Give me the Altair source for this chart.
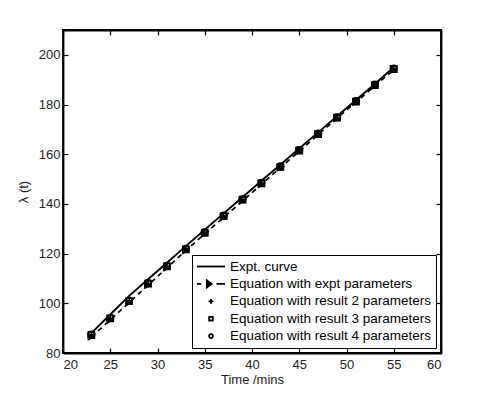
import altair as alt
import pandas as pd

# ---- data ----
t_expt = [23, 25, 27, 29, 31, 33, 35, 37, 39, 41, 43, 45, 47, 49, 51, 53, 55]
lam_curve = [88.0, 95.5, 103.0, 109.7, 116.3, 123.0, 129.6, 136.2, 142.7,
             149.3, 155.8, 162.3, 168.8, 175.3, 181.8, 188.3, 195.0]

t_eq = [23, 25, 27, 29, 31, 33, 35, 37, 39, 41, 43, 45, 47, 49, 51, 53, 55]
lam_eq_expt = [86.5, 93.3, 100.3, 107.3, 114.3, 121.2, 128.0, 134.6, 141.2,
               147.9, 154.6, 161.2, 167.9, 174.5, 181.0, 187.5, 194.0]
lam_eq_r2 = [87.3, 94.0, 101.0, 108.0, 115.0, 121.8, 128.5, 135.2, 141.8,
             148.4, 155.0, 161.6, 168.2, 174.8, 181.3, 187.9, 194.4]
lam_eq_r3 = [87.2, 93.9, 100.9, 107.9, 114.9, 121.7, 128.4, 135.1, 141.7,
             148.3, 154.9, 161.5, 168.1, 174.7, 181.2, 187.8, 194.3]
lam_eq_r4 = [87.4, 94.1, 101.1, 108.1, 115.1, 121.9, 128.6, 135.3, 141.9,
             148.5, 155.1, 161.7, 168.3, 174.9, 181.4, 188.0, 194.5]

series_names = ["Expt. curve",
                "Equation with expt parameters",
                "Equation with result 2 parameters",
                "Equation with result 3 parameters",
                "Equation with result 4 parameters"]

x_ticks = [20, 25, 30, 35, 40, 45, 50, 55, 60]
y_ticks = [80, 100, 120, 140, 160, 180, 200]

# ---- styling ----
W, H = 378, 323
FONT = "Liberation Sans"
x_scale = alt.Scale(domain=[20, 60], nice=False, zero=False)
y_scale = alt.Scale(domain=[80, 210], nice=False, zero=False)

PLUS = "M-1,0H1M0,-1V1"
SQUARE = "M-1,-1H1V1H-1Z"

# legend symbol paths (drawn in a 28px box)
leg_line = "M-1,0H1"
leg_dash_tri = "M-1,0H-0.7M-0.3,-0.26L0.05,0L-0.3,0.26ZM0.4,0H1"
leg_plus = "M-0.17,0H0.17M0,-0.17V0.17"
leg_square = "M-0.13,-0.13H0.13V0.13H-0.13Z"
leg_circle = "M0.14,0A0.14,0.14,0,1,1,-0.14,0A0.14,0.14,0,1,1,0.14,0Z"

curve_df = pd.DataFrame({"t": t_expt, "lam": lam_curve})
eq_df = pd.DataFrame({"t": t_eq, "expt": lam_eq_expt, "r2": lam_eq_r2,
                      "r3": lam_eq_r3, "r4": lam_eq_r4})
legend_df = pd.DataFrame({"series": series_names, "t": [0] * 5, "lam": [0] * 5})

x_bottom = alt.X("t:Q", scale=x_scale, title="Time /mins",
                 axis=alt.Axis(values=x_ticks, orient="bottom", grid=False,
                               tickSize=alt.ExprRef("-5"), labelPadding=10,
                               titlePadding=2))
y_left = alt.Y("lam:Q", scale=y_scale, title="λ (t)",
               axis=alt.Axis(values=y_ticks, orient="left", grid=False,
                             tickSize=alt.ExprRef("-5"), labelPadding=8,
                             titlePadding=8))


def xq():
    return alt.X("t:Q", scale=x_scale, axis=None)


def yq(f):
    return alt.Y(f + ":Q", scale=y_scale, axis=None)


curve = alt.Chart(curve_df).mark_line(color="black", strokeWidth=1.9).encode(
    x=x_bottom, y=y_left)

dashed = alt.Chart(eq_df).mark_line(color="black", strokeWidth=1.7,
                                   strokeDash=[5, 4]).encode(x=xq(), y=yq("expt"))
tri = alt.Chart(eq_df).mark_point(shape="triangle-right", filled=True,
                                  color="black", size=70, opacity=1).encode(
    x=xq(), y=yq("expt"))
plus = alt.Chart(eq_df).mark_point(shape=PLUS, filled=False, color="black",
                                   strokeWidth=1.6, size=28, opacity=1).encode(
    x=xq(), y=yq("r2"))
sq = alt.Chart(eq_df).mark_point(shape=SQUARE, filled=False, color="black",
                                 strokeWidth=1.8, size=36, opacity=1).encode(
    x=xq(), y=yq("r3"))
circ = alt.Chart(eq_df).mark_point(shape="circle", filled=False, color="black",
                                   strokeWidth=1.8, size=40, opacity=1).encode(
    x=xq(), y=yq("r4"))

leg = alt.Legend(title=None, orient="bottom-right", offset=5,
                 labelFont=FONT, labelFontSize=13.5, labelColor="black",
                 strokeColor="black", fillColor="white", padding=4,
                 clipHeight=15, rowPadding=2.4, symbolStrokeWidth=1.8,
                 symbolStrokeColor="black", symbolSize=784, symbolOffset=0,
                 labelOffset=4, labelLimit=400)
legend_layer = alt.Chart(legend_df).mark_point(
    size=784, strokeWidth=1.8, opacity=1, clip=True).encode(
    x=xq(),
    y=yq("lam"),
    shape=alt.Shape("series:N", sort=series_names, legend=leg,
                    scale=alt.Scale(domain=series_names,
                                    range=[leg_line, leg_dash_tri, leg_plus,
                                           leg_square, leg_circle])),
    fill=alt.Fill("series:N", sort=series_names, legend=leg,
                  scale=alt.Scale(domain=series_names,
                                  range=["black", "black", "black",
                                         "transparent", "transparent"])),
    stroke=alt.Stroke("series:N", sort=series_names, legend=leg,
                      scale=alt.Scale(domain=series_names,
                                      range=["black"] * 5)),
)

# opposite-side axes (ticks only)
frame = alt.Chart(curve_df).mark_point(opacity=0).encode(
    x=alt.X("t:Q", scale=x_scale, title=None,
            axis=alt.Axis(values=x_ticks, orient="top", labels=False,
                          grid=False, tickSize=alt.ExprRef("-5"))),
    y=alt.Y("lam:Q", scale=y_scale, title=None,
            axis=alt.Axis(values=y_ticks, orient="right", labels=False,
                          grid=False, tickSize=alt.ExprRef("-5"))),
)

chart = alt.layer(curve, frame, dashed, tri, plus, sq, circ, legend_layer).resolve_axis(
    x="independent", y="independent"
).properties(
    width=W, height=H,
    autosize=alt.AutoSizeParams(type="none"),
    padding={"left": 55, "top": 22, "right": 40, "bottom": 37},
).configure_axis(
    domainColor="black", domainWidth=1.8, tickColor="black", tickWidth=1.2,
    labelFont=FONT, labelFontSize=13, labelColor="#222222",
    titleFont=FONT, titleFontSize=13, titleColor="#222222",
    titleFontWeight="normal",
).configure_view(stroke="black", strokeWidth=1.8)

chart.save("out.html", embed_options={"renderer": "svg", "actions": False})
